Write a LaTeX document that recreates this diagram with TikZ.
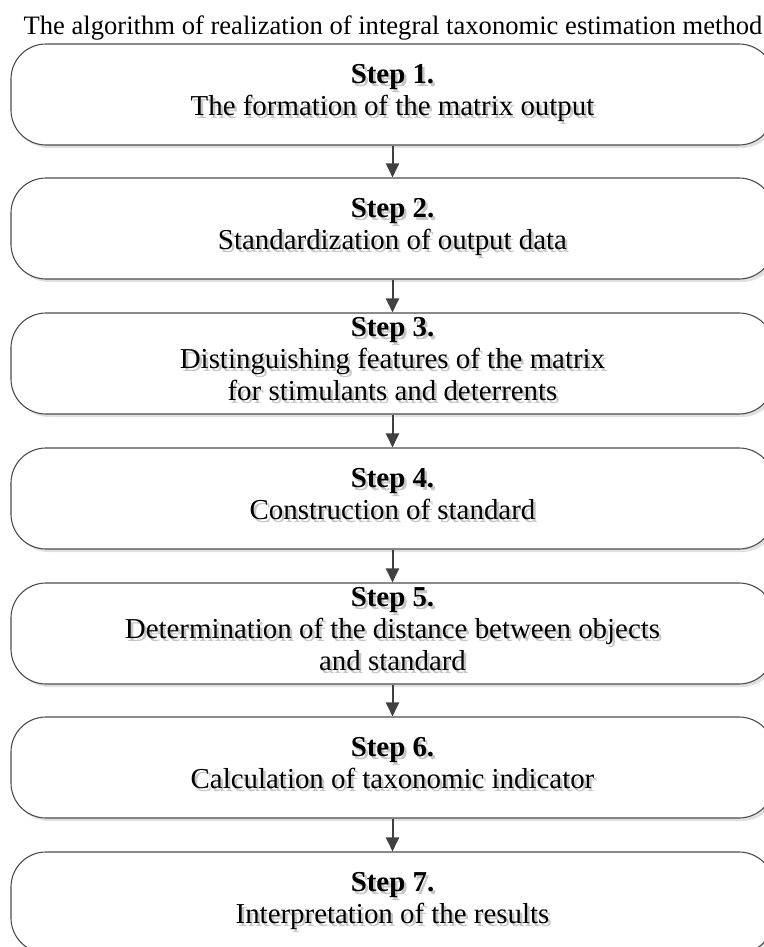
\documentclass[tikz,border=0pt]{standalone}
\usepackage{fontspec}
\setmainfont{Liberation Serif}
\usetikzlibrary{arrows.meta,shadows}

% multi-line centred text with a soft grey copy set just below and to the right
\newcommand\linesblock[1]{\begin{tabular}{@{}c@{}}#1\end{tabular}}
\newcommand\shadowtext[1]{\leavevmode\rlap{\hspace{2.5bp}\raisebox{-3bp}{\color{black!22}\linesblock{#1}}}\linesblock{#1}}

\tikzset{
  stepbox/.style={draw=black!70, line width=1.1bp, fill=white,
    rounded corners=35bp, minimum width=763bp, minimum height=101bp,
    inner sep=0pt, font=\fontsize{29}{32}\selectfont,
    drop shadow={shadow xshift=3bp, shadow yshift=-3bp, fill=black!12, opacity=1}},
  flow/.style={draw=black!75, line width=2bp,
    -{Triangle[length=14bp,width=13bp]}},
  heading/.style={font=\fontsize{26.7}{30}\selectfont, inner sep=0pt}
}

\begin{document}
\begin{tikzpicture}[x=1bp,y=-1bp]
  \useasboundingbox (0,0) rectangle (764,947);
  \clip (0,0) rectangle (764,947);

  \node[heading] (title) at (393,28) {The algorithm of realization of integral taxonomic estimation method};

  \node[stepbox] (s1) at (392.5, 94.5) {\shadowtext{\textbf{Step 1.}\\The formation of the matrix output}};
  \node[stepbox] (s2) at (392.5,228.5) {\shadowtext{\textbf{Step 2.}\\Standardization of output data}};
  \node[stepbox] (s3) at (392.5,363.5) {\shadowtext{\textbf{Step 3.}\\Distinguishing features of the matrix\\for stimulants and deterrents}};
  \node[stepbox] (s4) at (392.5,498.5) {\shadowtext{\textbf{Step 4.}\\Construction of standard}};
  \node[stepbox] (s5) at (392.5,633.5) {\shadowtext{\textbf{Step 5.}\\Determination of the distance between objects\\and standard}};
  \node[stepbox] (s6) at (392.5,767.5) {\shadowtext{\textbf{Step 6.}\\Calculation of taxonomic indicator}};
  \node[stepbox] (s7) at (392.5,902.5) {\shadowtext{\textbf{Step 7.}\\Interpretation of the results}};

  \foreach \a/\b in {s1/s2,s2/s3,s3/s4,s4/s5,s5/s6,s6/s7}
    \draw[flow] (\a.south) -- (\b.north);
\end{tikzpicture}
\end{document}
